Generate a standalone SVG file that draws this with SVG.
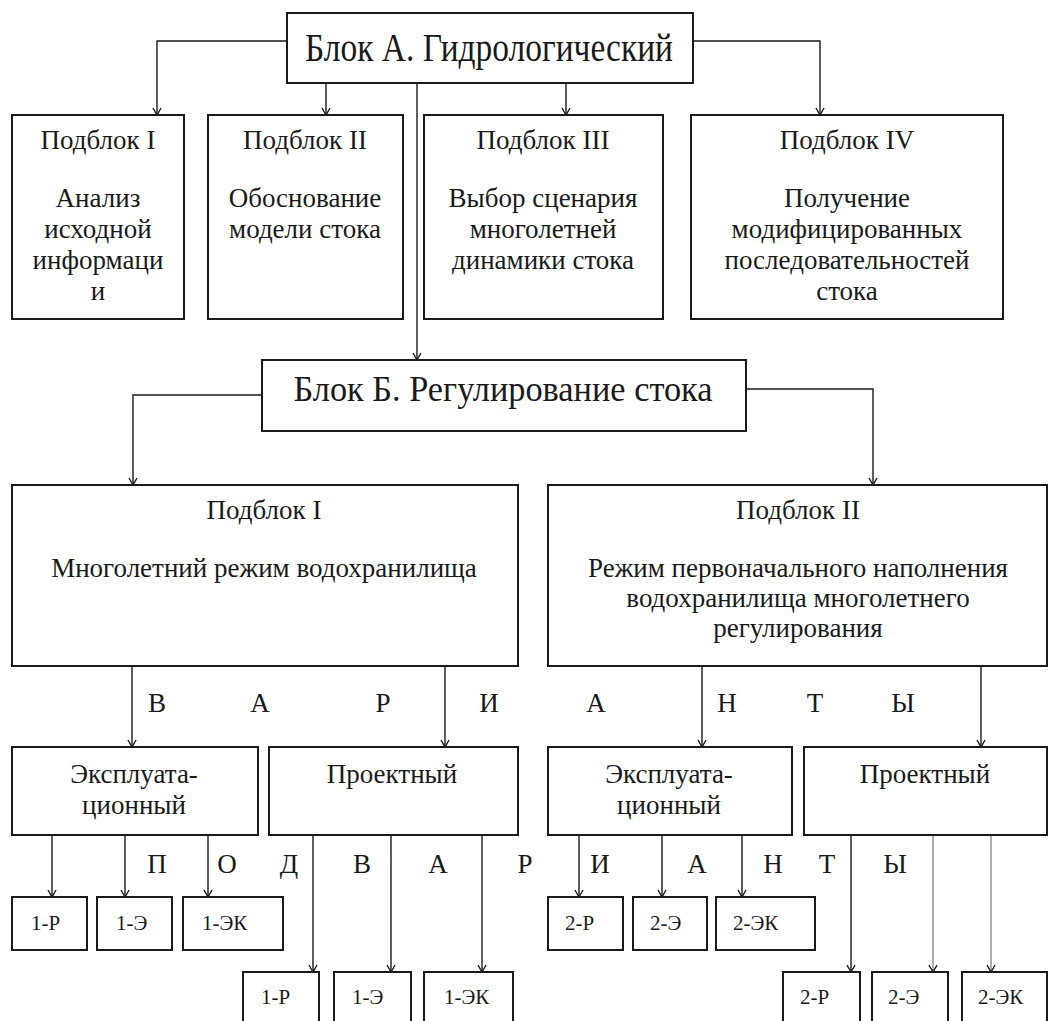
<svg xmlns="http://www.w3.org/2000/svg" width="1051" height="1021" viewBox="0 0 1051 1021">
<style>
.box{fill:#fff;stroke:#1a1a1a;stroke-width:2}
.t{font-family:"Liberation Serif","DejaVu Serif",serif;fill:#1a1a1a;font-size:27px;text-anchor:middle}
.h{font-size:39px}
.hb{font-size:35px}
.s{font-family:"Liberation Serif","DejaVu Serif",serif;fill:#1a1a1a;font-size:21px}
.c{fill:none;stroke:#1a1a1a;stroke-width:1.4}
.g{stroke:#8a8a8a}
.l{font-family:"Liberation Serif","DejaVu Serif",serif;fill:#1a1a1a;font-size:27px;text-anchor:middle}
</style>
<defs>
<marker id="a" markerWidth="12" markerHeight="12" refX="0" refY="0" viewBox="-9 -6 12 12" orient="auto" markerUnits="userSpaceOnUse">
<path d="M-7,-4 L0,0 L-7,4" fill="none" stroke="#1a1a1a" stroke-width="1.4"/>
</marker>
</defs>
<rect width="1051" height="1021" fill="#fff"/>
<g id="connectors">
<path class="c" d="M287,41 H157 V115" marker-end="url(#a)"/>
<path class="c" d="M693,41 H820 V115" marker-end="url(#a)"/>
<path class="c" d="M326,83 V115" marker-end="url(#a)"/>
<path class="c" d="M566,83 V115" marker-end="url(#a)"/>
<path class="c" d="M417,83 V360" marker-end="url(#a)"/>
<path class="c" d="M262,395 H133 V485" marker-end="url(#a)"/>
<path class="c" d="M746,389 H873 V485" marker-end="url(#a)"/>
<path class="c" d="M132,666 V747" marker-end="url(#a)"/>
<path class="c" d="M445,666 V747" marker-end="url(#a)"/>
<path class="c" d="M702,666 V747" marker-end="url(#a)"/>
<path class="c" d="M981,666 V747" marker-end="url(#a)"/>
<path class="c" d="M52,835 V897" marker-end="url(#a)"/>
<path class="c" d="M125,835 V897" marker-end="url(#a)"/>
<path class="c" d="M208,835 V897" marker-end="url(#a)"/>
<path class="c" d="M313,835 V972" marker-end="url(#a)"/>
<path class="c" d="M391,835 V972" marker-end="url(#a)"/>
<path class="c" d="M482,835 V972" marker-end="url(#a)"/>
<path class="c" d="M579,835 V897" marker-end="url(#a)"/>
<path class="c" d="M662,835 V897" marker-end="url(#a)"/>
<path class="c" d="M742,835 V897" marker-end="url(#a)"/>
<path class="c" d="M851,835 V972" marker-end="url(#a)"/>
<path class="c g" d="M933,835 V972" marker-end="url(#a)"/>
<path class="c g" d="M991,835 V972" marker-end="url(#a)"/>
</g>
<g id="blockA">
<rect class="box" x="287" y="13" width="406" height="70"/>
<text class="t h" x="489" y="61" textLength="368" lengthAdjust="spacingAndGlyphs">Блок А. Гидрологический</text>
</g>
<g id="a1">
<rect class="box" x="12" y="115" width="172" height="204"/>
<text class="t" x="98" y="149">Подблок I</text>
<text class="t" x="98" y="207">Анализ</text>
<text class="t" x="98" y="238">исходной</text>
<text class="t" x="98" y="269">информаци</text>
<text class="t" x="98" y="300">и</text>
</g>
<g id="a2">
<rect class="box" x="208" y="115" width="195" height="204"/>
<text class="t" x="305" y="149">Подблок II</text>
<text class="t" x="305" y="207">Обоснование</text>
<text class="t" x="305" y="238">модели стока</text>
</g>
<g id="a3">
<rect class="box" x="424" y="115" width="239" height="204"/>
<text class="t" x="543" y="149">Подблок III</text>
<text class="t" x="543" y="207">Выбор сценария</text>
<text class="t" x="543" y="238">многолетней</text>
<text class="t" x="543" y="269">динамики стока</text>
</g>
<g id="a4">
<rect class="box" x="691" y="115" width="312" height="204"/>
<text class="t" x="847" y="149">Подблок IV</text>
<text class="t" x="847" y="207">Получение</text>
<text class="t" x="847" y="238">модифицированных</text>
<text class="t" x="847" y="269">последовательностей</text>
<text class="t" x="847" y="300">стока</text>
</g>
<g id="blockB">
<rect class="box" x="262" y="360" width="484" height="71"/>
<text class="t hb" x="503" y="401" textLength="419" lengthAdjust="spacingAndGlyphs">Блок Б. Регулирование стока</text>
</g>
<g id="b1">
<rect class="box" x="12" y="485" width="506" height="181"/>
<text class="t" x="264" y="519">Подблок I</text>
<text class="t" x="264" y="577">Многолетний режим водохранилища</text>
</g>
<g id="b2">
<rect class="box" x="548" y="485" width="499" height="181"/>
<text class="t" x="798" y="519">Подблок II</text>
<text class="t" x="798" y="577">Режим первоначального наполнения</text>
<text class="t" x="798" y="607">водохранилища многолетнего</text>
<text class="t" x="798" y="637">регулирования</text>
</g>
<g id="variants-label">
<text class="l" x="157" y="712">В</text>
<text class="l" x="260" y="712">А</text>
<text class="l" x="383" y="712">Р</text>
<text class="l" x="489" y="712">И</text>
<text class="l" x="596" y="712">А</text>
<text class="l" x="727" y="712">Н</text>
<text class="l" x="815" y="712">Т</text>
<text class="l" x="903" y="712">Ы</text>
</g>
<g id="c1">
<rect class="box" x="12" y="747" width="246" height="88"/>
<text class="t" x="134" y="783">Эксплуата-</text>
<text class="t" x="134" y="814">ционный</text>
</g>
<g id="c2">
<rect class="box" x="269" y="747" width="249" height="88"/>
<text class="t" x="392" y="783">Проектный</text>
</g>
<g id="c3">
<rect class="box" x="548" y="747" width="244" height="88"/>
<text class="t" x="669" y="783">Эксплуата-</text>
<text class="t" x="669" y="814">ционный</text>
</g>
<g id="c4">
<rect class="box" x="804" y="747" width="243" height="88"/>
<text class="t" x="925" y="783">Проектный</text>
</g>
<g id="subvariants-label">
<text class="l" x="157" y="873">П</text>
<text class="l" x="227" y="873">О</text>
<text class="l" x="289" y="873">Д</text>
<text class="l" x="362" y="873">В</text>
<text class="l" x="438" y="873">А</text>
<text class="l" x="525" y="873">Р</text>
<text class="l" x="600" y="873">И</text>
<text class="l" x="697" y="873">А</text>
<text class="l" x="773" y="873">Н</text>
<text class="l" x="827" y="873">Т</text>
<text class="l" x="895" y="873">Ы</text>
</g>
<g id="d1"><rect class="box" x="12" y="897" width="75" height="53"/><text class="s" x="31" y="930">1-Р</text></g>
<g id="d2"><rect class="box" x="97" y="897" width="75" height="53"/><text class="s" x="116" y="930">1-Э</text></g>
<g id="d3"><rect class="box" x="183" y="897" width="100" height="53"/><text class="s" x="202" y="930">1-ЭК</text></g>
<g id="d4"><rect class="box" x="243" y="972" width="76" height="60"/><text class="s" x="261" y="1004">1-Р</text></g>
<g id="d5"><rect class="box" x="334" y="972" width="77" height="60"/><text class="s" x="352" y="1004">1-Э</text></g>
<g id="d6"><rect class="box" x="424" y="972" width="89" height="60"/><text class="s" x="444" y="1004">1-ЭК</text></g>
<g id="d7"><rect class="box" x="548" y="897" width="75" height="53"/><text class="s" x="565" y="930">2-Р</text></g>
<g id="d8"><rect class="box" x="633" y="897" width="74" height="53"/><text class="s" x="650" y="930">2-Э</text></g>
<g id="d9"><rect class="box" x="716" y="897" width="99" height="53"/><text class="s" x="733" y="930">2-ЭК</text></g>
<g id="d10"><rect class="box" x="783" y="972" width="77" height="60"/><text class="s" x="800" y="1004">2-Р</text></g>
<g id="d11"><rect class="box" x="872" y="972" width="76" height="60"/><text class="s" x="888" y="1004">2-Э</text></g>
<g id="d12"><rect class="box" x="962" y="972" width="85" height="60"/><text class="s" x="978" y="1004">2-ЭК</text></g>
</svg>
